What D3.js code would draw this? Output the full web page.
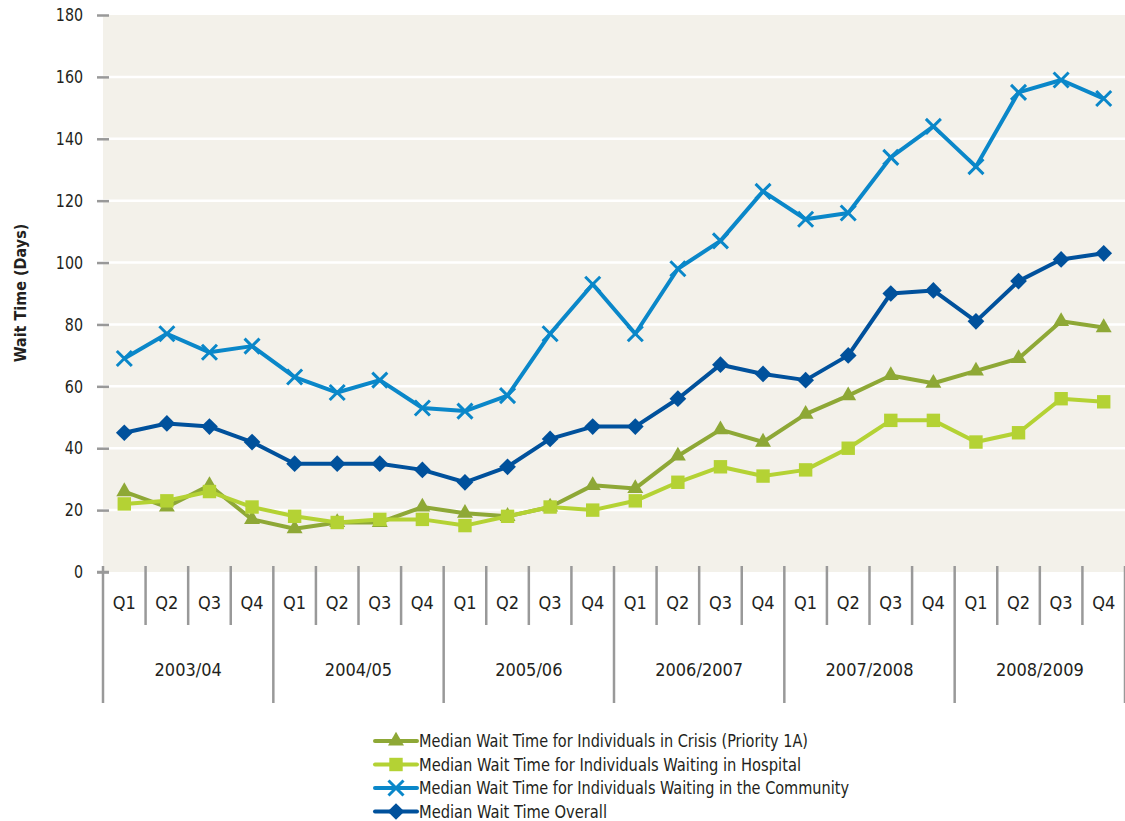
<!DOCTYPE html>
<html><head><meta charset="utf-8">
<script src="https://cdn.jsdelivr.net/npm/d3@7"></script>
<style>
body{margin:0;background:#fff;}
svg{display:block;}
text{font-family:"Liberation Sans Narrow","Arial Narrow","DejaVu Sans Condensed",sans-serif;fill:#231f20;}
</style></head>
<body><svg id="c" width="1125" height="821"></svg>
<script>
const years = ["2003/04","2004/05","2005/06","2006/2007","2007/2008","2008/2009"];
const quarters = ["Q1","Q2","Q3","Q4"];
const yTicks = [0,20,40,60,80,100,120,140,160,180];
const crisis    = [26,21,28,17, 14,16,16,21, 19,18,21,28, 27,37.5,46,42, 51,57,63.5,61, 65,69,81,79];
const hospital  = [22,23,26,21, 18,16,17,17, 15,18,21,20, 23,29,34,31, 33,40,49,49, 42,45,56,55];
const community = [69,77,71,73, 63,58,62,53, 52,57,77,93, 77,98,107,123, 114,116,134,144, 131,155,159,153];
const overall   = [45,48,47,42, 35,35,35,33, 29,34,43,47, 47,56,67,64, 62,70,90,91, 81,94,101,103];
const seriesNames = [
  "Median Wait Time for Individuals in Crisis (Priority 1A)",
  "Median Wait Time for Individuals Waiting in Hospital",
  "Median Wait Time for Individuals Waiting in the Community",
  "Median Wait Time Overall"
];

const svg = d3.select("#c");
const L=103, R=1125, T=15, B=572;
const cats = d3.range(years.length*quarters.length);
const x = d3.scaleBand().domain(cats).range([L,R]);
const y = d3.scaleLinear().domain([0,180]).range([B,T]);

svg.append("rect").attr("x",L).attr("y",T).attr("width",R-L).attr("height",B-T).attr("fill","#f3f1ea");
svg.append("g").selectAll("line").data(yTicks.filter(d=>d>0&&d<180)).join("line")
  .attr("x1",L).attr("x2",R).attr("y1",d=>y(d)).attr("y2",d=>y(d))
  .attr("stroke","#fff").attr("stroke-width",2.5);

const yAxis = svg.append("g").attr("transform",`translate(109,0)`)
  .call(d3.axisLeft(y).tickValues(yTicks).tickSize(12).tickPadding(14));
yAxis.select(".domain").remove();
yAxis.selectAll(".tick line").attr("stroke","#999").attr("stroke-width",2.5);
yAxis.selectAll(".tick text").style("font-size","18px").attr("fill","#231f20")
  .attr("textLength",function(){return this.getComputedTextLength()*0.88;}).attr("lengthAdjust","spacingAndGlyphs");

svg.append("text").attr("transform","translate(26,293) rotate(-90)")
  .attr("text-anchor","middle").style("font-size","16px").style("font-weight","bold")
  .text("Wait Time (Days)");

// category axis
const g = svg.append("g");
const seps = d3.range(cats.length+1);
g.selectAll("line").data(seps).join("line")
  .attr("x1",i=>i<cats.length? x(i):x(cats.length-1)+x.bandwidth())
  .attr("x2",i=>i<cats.length? x(i):x(cats.length-1)+x.bandwidth())
  .attr("y1",566).attr("y2",i=>i%4===0?703:625)
  .attr("stroke","#999").attr("stroke-width",2.5);
svg.append("line").attr("x1",97).attr("x2",109).attr("y1",B).attr("y2",B).attr("stroke","#999").attr("stroke-width",2.5);
g.selectAll("text.q").data(cats).join("text").attr("class","q")
  .attr("x",i=>x(i)+x.bandwidth()/2).attr("y",609).attr("text-anchor","middle")
  .style("font-size","18px").text(i=>quarters[i%4]);
g.selectAll("text.yr").data(years).join("text").attr("class","yr")
  .attr("x",(d,i)=>x(i*4)+x.bandwidth()*2).attr("y",676).attr("text-anchor","middle")
  .style("font-size","18px").text(d=>d);

// markers
const diamond = {draw(c,s){const r=Math.sqrt(s/2);c.moveTo(0,-r);c.lineTo(r,0);c.lineTo(0,r);c.lineTo(-r,0);c.closePath();}};
function marker(sel, type, color){
  if(type==="x"){
    const s=7.5;
    sel.append("path").attr("d",`M${-s},${-s}L${s},${s}M${-s},${s}L${s},${-s}`)
      .attr("stroke",color).attr("stroke-width",3).attr("fill","none");
  } else {
    let sym, size;
    if(type==="tri"){sym=d3.symbolTriangle;size=110;}
    else if(type==="sq"){sym=d3.symbolSquare;size=180;}
    else {sym=diamond;size=140;}
    sel.append("path").attr("d",d3.symbol(sym,size)()).attr("fill",color);
  }
}
const series = [
  {vals:crisis, color:"#8ea836", m:"tri"},
  {vals:hospital, color:"#b4d234", m:"sq"},
  {vals:community, color:"#0a87c9", m:"x"},
  {vals:overall, color:"#00519c", m:"dia"}
];
const line = d3.line().x((d,i)=>x(i)+x.bandwidth()/2).y(d=>y(d));
series.forEach(s=>{
  svg.append("path").datum(s.vals).attr("d",line).attr("fill","none")
    .attr("stroke",s.color).attr("stroke-width",4).attr("stroke-linejoin","round");
  svg.append("g").selectAll("g").data(s.vals).join("g")
    .attr("transform",(d,i)=>`translate(${x(i)+x.bandwidth()/2},${y(d)})`)
    .each(function(){marker(d3.select(this), s.m, s.color);});
});

// legend
const legendWidths = [389, 382, 430, 188];
const lg = svg.append("g");
series.forEach((s,i)=>{
  const yy = 741 + i*23.5;
  lg.append("line").attr("x1",375).attr("x2",417).attr("y1",yy).attr("y2",yy)
    .attr("stroke",s.color).attr("stroke-width",4).attr("stroke-linecap","round");
  const mg = lg.append("g").attr("transform",`translate(396,${yy})`);
  marker(mg, s.m, s.color);
  lg.append("text").attr("x",419).attr("y",yy+6).style("font-size","18px")
    .attr("textLength",legendWidths[i]).attr("lengthAdjust","spacingAndGlyphs")
    .text(seriesNames[i]);
});
</script></body></html>
